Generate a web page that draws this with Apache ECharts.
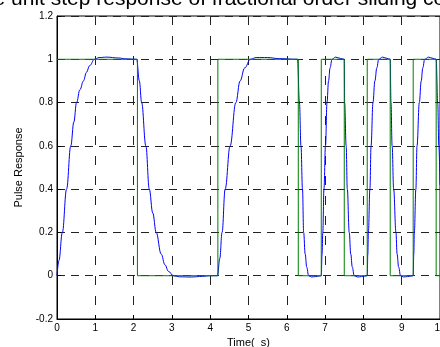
<!DOCTYPE html>
<html>
<head>
<meta charset="utf-8">
<script src="https://cdn.jsdelivr.net/npm/echarts@6/dist/echarts.min.js"></script>
<style>
  html, body { margin: 0; padding: 0; background: #fff; }
  #chart { width: 440px; height: 347px; }
</style>
</head>
<body>
<div id="chart"></div>
<script>
// square-wave input: switching times and levels
const stepT = [0, 2.1, 4.2, 6.3, 6.9, 7.5, 8.1, 8.7, 9.3, 9.9, 10];
const stepY = [1, 0, 1, 0, 1, 0, 1, 0, 1, 0, 0];

// system response
const respT = [
  0, 0.05, 0.14, 0.25, 0.36, 0.44, 0.51, 0.6, 0.69, 0.77, 0.85, 0.98, 1.1, 1.3, 1.6, 1.8, 2.08,
  2.15, 2.21, 2.32, 2.41, 2.5, 2.59, 2.72, 2.82, 2.91, 3.04, 3.2, 3.5, 3.8, 4.0, 4.19,
  4.25, 4.31, 4.39, 4.52, 4.67, 4.78, 4.9, 5.05, 5.2, 5.5, 5.8, 6.28,
  6.33, 6.37, 6.41, 6.44, 6.48, 6.52, 6.57, 6.65, 6.75, 6.9,
  6.92, 6.94, 6.97, 7.01, 7.05, 7.09, 7.13, 7.18, 7.27, 7.4, 7.5,
  7.51, 7.55, 7.58, 7.63, 7.67, 7.71, 7.76, 7.85, 7.95, 8.1,
  8.115, 8.13, 8.17, 8.2, 8.25, 8.3, 8.35, 8.4, 8.5, 8.62, 8.7,
  8.72, 8.75, 8.79, 8.85, 8.88, 8.92, 8.97, 9.05, 9.15, 9.3,
  9.315, 9.33, 9.37, 9.4, 9.46, 9.51, 9.55, 9.6, 9.7, 9.82, 9.9,
  9.94, 9.97, 10.0
];
const respY = [
  0, 0.07, 0.2, 0.4, 0.6, 0.71, 0.8, 0.86, 0.9, 0.94, 0.97, 1.0, 1.008, 1.01, 1.006, 1.002, 1.0,
  0.9, 0.8, 0.6, 0.4, 0.29, 0.2, 0.1, 0.05, 0.02, 0.0, -0.005, -0.006, -0.003, 0, 0,
  0.08, 0.2, 0.4, 0.6, 0.8, 0.9, 0.96, 1.0, 1.008, 1.008, 1.003, 1.0,
  0.8, 0.6, 0.4, 0.2, 0.1, 0.04, 0.0, -0.006, -0.004, 0,
  0.1, 0.2, 0.4, 0.6, 0.8, 0.9, 0.96, 1.0, 1.01, 1.004, 1.0,
  0.8, 0.6, 0.4, 0.2, 0.1, 0.04, 0, -0.006, -0.004, 0,
  0.1, 0.2, 0.4, 0.6, 0.8, 0.9, 0.96, 1.0, 1.01, 1.004, 1.0,
  0.8, 0.6, 0.4, 0.2, 0.1, 0.04, 0, -0.006, -0.004, 0,
  0.1, 0.2, 0.4, 0.6, 0.8, 0.9, 0.96, 1.0, 1.01, 1.004, 1.0,
  0.8, 0.6, 0.42
];

const titleText = 'The unit step response of fractional order sliding control';
const font = 'Liberation Sans, Arial, sans-serif';

const chart = echarts.init(document.getElementById('chart'), null, { renderer: 'canvas' });

const option = {
  animation: false,
  backgroundColor: '#fff',
  textStyle: { fontFamily: font },
  graphic: [{
    type: 'text',
    left: -31,
    top: -11,
    style: { text: titleText, font: '21px ' + font, fill: '#000' }
  }],
  grid: {
    left: 57, right: 0, top: 16, bottom: 28,
    outerBoundsMode: 'none',
    containLabel: false,
    show: true, borderColor: '#000', borderWidth: 1, backgroundColor: 'transparent'
  },
  xAxis: {
    type: 'value',
    min: 0, max: 10, interval: 1,
    name: 'Time(  s)',
    nameLocation: 'middle',
    nameGap: 17,
    nameTextStyle: { fontSize: 11, color: '#000', fontFamily: font },
    axisLine: { show: true, onZero: false, lineStyle: { color: '#000', width: 1 } },
    axisTick: { inside: true, length: 4, lineStyle: { color: '#000' } },
    axisLabel: { fontSize: 10, color: '#000', margin: 4, showMaxLabel: true, hideOverlap: false, fontFamily: font },
    splitLine: { show: true, lineStyle: { color: '#222', type: [9, 11], width: 1 } }
  },
  yAxis: {
    type: 'value',
    min: -0.2, max: 1.2, interval: 0.2,
    name: 'Pulse Response',
    nameLocation: 'middle',
    nameGap: 31,
    nameTextStyle: { fontSize: 11, color: '#000', fontFamily: font },
    axisLine: { show: true, lineStyle: { color: '#000', width: 1 } },
    axisTick: { inside: true, length: 4, lineStyle: { color: '#000' } },
    axisLabel: {
      fontSize: 10, color: '#000', margin: 4, fontFamily: font,
      formatter: v => String(Math.round(v * 10) / 10)
    },
    splitLine: { show: true, lineStyle: { color: '#222', type: [8, 6], width: 1 } }
  },
  series: [
    {
      type: 'line',
      data: respT.map((t, i) => [t, respY[i]]),
      showSymbol: false,
      smooth: 0.4,
      smoothMonotone: 'x',
      lineStyle: { color: '#0000ff', width: 1 },
      z: 2
    },
    {
      type: 'line',
      data: stepT.map((t, i) => [t, stepY[i]]),
      step: 'end',
      showSymbol: false,
      lineStyle: { color: '#008000', width: 1 },
      z: 3
    }
  ]
};

chart.setOption(option);
</script>
</body>
</html>
